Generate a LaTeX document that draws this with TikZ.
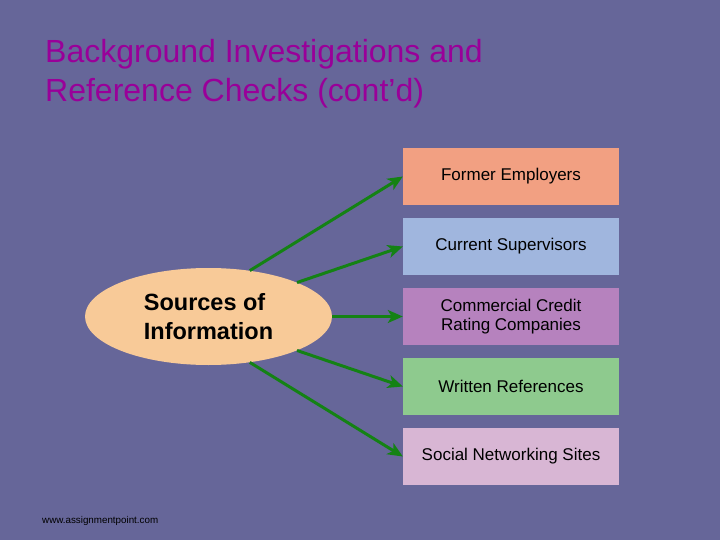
\documentclass[tikz,border=0pt]{standalone}
\usepackage{fontspec}
\setmainfont{Liberation Sans}
\usetikzlibrary{shapes.geometric,arrows.meta}
\definecolor{bg}{RGB}{102,102,153}
\definecolor{titlec}{RGB}{153,0,153}
\definecolor{c1}{RGB}{242,160,130}
\definecolor{c2}{RGB}{160,182,222}
\definecolor{c3}{RGB}{182,130,190}
\definecolor{c4}{RGB}{142,202,142}
\definecolor{c5}{RGB}{216,182,212}
\definecolor{ell}{RGB}{248,202,152}
\definecolor{arr}{RGB}{20,130,20}
\tikzset{
  box/.style={rectangle, minimum width=216pt, minimum height=57pt, inner sep=0pt, align=center,
    font=\fontsize{17}{19.5}\selectfont, text=black},
  conn/.style={draw=arr, line width=3pt, -{Stealth[length=15pt,width=13pt,inset=4pt]}},
  titletext/.style={anchor=base west, text=titlec, font=\fontsize{32}{38}\selectfont, inner sep=0pt}
}
\begin{document}
\begin{tikzpicture}[x=1pt,y=-1pt]
\fill[bg] (0,0) rectangle (720,540);
\useasboundingbox (0,0) rectangle (720,540);
\node[titletext] (t1) at (45,63) {Background Investigations and};
\node[titletext] (t2) at (45,102) {Reference Checks (cont’d)};
\node[box, fill=c1] (b1) at (511,176.5) {Former Employers};
\node[box, fill=c2] (b2) at (511,246.5) {Current Supervisors};
\node[box, fill=c3] (b3) at (511,316.5) {Commercial Credit\\Rating Companies};
\node[box, fill=c4] (b4) at (511,386.5) {Written References};
\node[box, fill=c5] (b5) at (511,456.5) {Social Networking Sites};
\node[ellipse, fill=ell, minimum width=247pt, minimum height=97pt, inner sep=0pt, align=left,
  font=\fontsize{23.5}{29}\selectfont\bfseries] (src) at (208.5,316.5) {Sources of\\Information};
\draw[conn] (src.48) -- (b1.west);
\draw[conn] (src.21) -- (b2.west);
\draw[conn] (src.0) -- (b3.west);
\draw[conn] (src.-21) -- (b4.west);
\draw[conn] (src.-48) -- (b5.west);
\node[anchor=base west, inner sep=0pt, font=\fontsize{9.8}{11}\selectfont, text=black] (foot) at (42,523) {www.assignmentpoint.com};
\end{tikzpicture}
\end{document}
